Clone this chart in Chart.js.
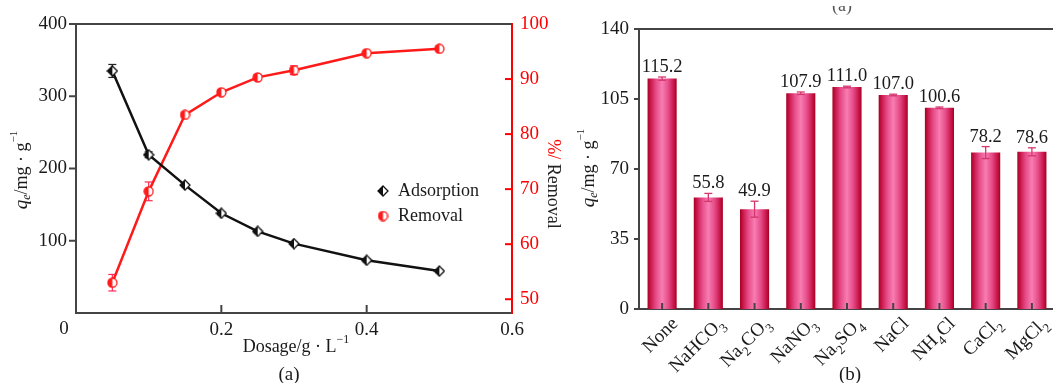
<!DOCTYPE html>
<html>
<head>
<meta charset="utf-8">
<script src="https://cdn.jsdelivr.net/npm/chart.js"></script>
<style>
  html, body { margin: 0; padding: 0; background: #fff; overflow: hidden; width: 1053px; height: 383px; }
  canvas { position: absolute; top: 0; }
  #dose { left: 0; }
  #ions { left: 575px; }
</style>
</head>
<body>
<canvas id="dose" width="575" height="383"></canvas>
<canvas id="ions" width="480" height="383"></canvas>
<script>
// ---- (a) effect of adsorbent dosage ----
const dosage        = [0.05, 0.1, 0.15, 0.2, 0.25, 0.3, 0.4, 0.5];
const adsorption    = [335, 219, 177, 138, 113, 96, 73, 58];
const adsorptionErr = [9, 4, 2, 2, 2, 2, 2, 2];
const removal       = [53.0, 69.6, 83.5, 87.6, 90.3, 91.6, 94.7, 95.5];
const removalErr    = [1.5, 1.7, 0.4, 0.3, 0.5, 0.8, 0.3, 0.3];
const doseTicks     = [0, 0.2, 0.4, 0.6];
const qTicks        = [0, 100, 200, 300, 400];
const removalTicks  = [50, 60, 70, 80, 90, 100];

// ---- (b) effect of coexisting salts ----
const salts   = ['None', 'NaHCO3', 'Na2CO3', 'NaNO3', 'Na2SO4', 'NaCl', 'NH4Cl', 'CaCl2', 'MgCl2'];
const qe      = [115.2, 55.8, 49.9, 107.9, 111.0, 107.0, 100.6, 78.2, 78.6];
const qeErr   = [0.8, 2.0, 4.0, 0.6, 0.4, 0.4, 0.4, 3.0, 2.0];
const qeTicks = [0, 35, 70, 105, 140];

const SERIF = "'Liberation Serif', 'Times New Roman', serif";
const INK = '#1a1a1a';
const AXIS = '#444';
const RED = '#ff0000';

function f(size, style) { return (style ? style + ' ' : '') + size + 'px ' + SERIF; }

function richWidth(ctx, segs) {
  let w = 0;
  for (const s of segs) { ctx.font = s.font; w += ctx.measureText(s.t).width; }
  return w;
}
function drawRich(ctx, segs, x, y, align) {
  const w = richWidth(ctx, segs);
  let cx = align === 'center' ? x - w / 2 : align === 'right' ? x - w : x;
  ctx.textAlign = 'left';
  for (const s of segs) {
    ctx.font = s.font;
    ctx.fillStyle = s.color || INK;
    ctx.fillText(s.t, cx, y + (s.dy || 0));
    cx += ctx.measureText(s.t).width;
  }
}
// chemical formula: digits become subscripts
function formulaSegs(name, size) {
  const segs = [];
  for (const part of name.match(/\d+|\D+/g)) {
    if (/\d/.test(part)) segs.push({ t: part, font: f(Math.round(size * 0.7)), dy: size * 0.3 });
    else segs.push({ t: part, font: f(size) });
  }
  return segs;
}
function qeTitle(size) {
  return [
    { t: 'q', font: f(size + 1, 'italic') },
    { t: 'e', font: f(Math.round(size * 0.68), 'italic'), dy: size * 0.28 },
    { t: '/mg \u00b7 g', font: f(size) },
    { t: '\u22121', font: f(Math.round(size * 0.62)), dy: -size * 0.42 }
  ];
}

// marker images: half-filled diamond and half-filled circle
function halfDiamond(size, color) {
  const c = document.createElement('canvas');
  c.width = c.height = size;
  const g = c.getContext('2d');
  const h = size / 2;
  g.beginPath(); g.moveTo(h, 1); g.lineTo(size - 1, h); g.lineTo(h, size - 1); g.lineTo(1, h); g.closePath();
  g.fillStyle = '#fff'; g.fill();
  g.beginPath(); g.moveTo(h, 1); g.lineTo(h, size - 1); g.lineTo(1, h); g.closePath();
  g.fillStyle = color; g.fill();
  g.beginPath(); g.moveTo(h, 1); g.lineTo(size - 1, h); g.lineTo(h, size - 1); g.lineTo(1, h); g.closePath();
  g.strokeStyle = color; g.lineWidth = 1.3; g.stroke();
  return c;
}
function halfCircle(size, color) {
  const c = document.createElement('canvas');
  c.width = c.height = size;
  const g = c.getContext('2d');
  const h = size / 2, r = h - 1;
  g.beginPath(); g.arc(h, h, r, 0, Math.PI * 2); g.fillStyle = '#fff'; g.fill();
  g.beginPath(); g.arc(h, h, r, Math.PI / 2, Math.PI * 1.5); g.closePath(); g.fillStyle = color; g.fill();
  g.beginPath(); g.arc(h, h, r, 0, Math.PI * 2); g.strokeStyle = color; g.lineWidth = 1.3; g.stroke();
  return c;
}
const diamondImg = halfDiamond(12, '#111');
const circleImg = halfCircle(11, '#ff1a1a');

function line(ctx, x1, y1, x2, y2, color, w) {
  ctx.beginPath(); ctx.moveTo(x1, y1); ctx.lineTo(x2, y2);
  ctx.strokeStyle = color; ctx.lineWidth = w; ctx.stroke();
}

// ---------- chart (a) ----------
const errA = {
  id: 'errA',
  beforeDatasetsDraw(chart) {
    const ctx = chart.ctx, xs = chart.scales.x;
    const sets = [
      { ys: chart.scales.y, v: adsorption, e: adsorptionErr, c: '#222' },
      { ys: chart.scales.y1, v: removal, e: removalErr, c: '#ff2a55' }
    ];
    ctx.save();
    for (const s of sets) {
      s.v.forEach((v, i) => {
        const x = xs.getPixelForValue(dosage[i]);
        const y1 = s.ys.getPixelForValue(v + s.e[i]);
        const y2 = s.ys.getPixelForValue(v - s.e[i]);
        line(ctx, x, y1, x, y2, s.c, 1.2);
        line(ctx, x - 4, y1, x + 4, y1, s.c, 1.2);
        line(ctx, x - 4, y2, x + 4, y2, s.c, 1.2);
      });
    }
    ctx.restore();
  }
};
const decoA = {
  id: 'decoA',
  afterDraw(chart) {
    const ctx = chart.ctx, a = chart.chartArea;
    const xs = chart.scales.x, ys = chart.scales.y, yr = chart.scales.y1;
    ctx.save();
    // top frame
    line(ctx, a.left - 1, a.top, a.right, a.top, AXIS, 2);
    // left ticks (outward)
    qTicks.forEach(v => { if (v > 0) { const y = ys.getPixelForValue(v); line(ctx, a.left - 7, y, a.left, y, AXIS, 2); } });
    // bottom ticks (inward)
    doseTicks.forEach(v => { if (v > 0 && v < 0.6) { const x = xs.getPixelForValue(v); line(ctx, x, a.bottom, x, a.bottom - 8, AXIS, 2); } });
    // right ticks (inward, red)
    removalTicks.forEach(v => { if (v < 100) { const y = yr.getPixelForValue(v); line(ctx, a.right - 7, y, a.right, y, RED, 2); } });
    // origin label
    ctx.font = f(19); ctx.fillStyle = INK; ctx.textAlign = 'center'; ctx.textBaseline = 'middle';
    ctx.fillText('0', a.left - 12, 329);
    // axis titles
    ctx.textBaseline = 'middle';
    ctx.save(); ctx.translate(22, 170); ctx.rotate(-Math.PI / 2);
    drawRich(ctx, qeTitle(18), 0, 0, 'center'); ctx.restore();
    ctx.save(); ctx.translate(553, 184); ctx.rotate(Math.PI / 2);
    drawRich(ctx, [{ t: '%/', font: f(18), color: RED }, { t: ' Removal', font: f(18), color: '#222' }], 0, 0, 'center');
    ctx.restore();
    drawRich(ctx, [{ t: 'Dosage/g \u00b7 L', font: f(18) }, { t: '\u22121', font: f(12), dy: -7 }], 296, 347, 'center');
    drawRich(ctx, [{ t: '(a)', font: f(19) }], 289, 375, 'center');
    // legend
    const names = chart.data.datasets.map(d => d.label);
    const imgs = [diamondImg, circleImg];
    const ly = [191, 216];
    names.forEach((n, i) => {
      const im = imgs[i];
      ctx.drawImage(im, 383 - im.width / 2, ly[i] - im.height / 2);
      ctx.font = f(18); ctx.fillStyle = INK; ctx.textAlign = 'left';
      ctx.fillText(n, 398, ly[i]);
    });
    ctx.restore();
  }
};

new Chart(document.getElementById('dose'), {
  type: 'line',
  data: {
    datasets: [
      {
        label: 'Adsorption',
        data: dosage.map((x, i) => ({ x, y: adsorption[i] })),
        yAxisID: 'y',
        borderColor: '#111', borderWidth: 2.5, tension: 0,
        pointStyle: diamondImg
      },
      {
        label: 'Removal',
        data: dosage.map((x, i) => ({ x, y: removal[i] })),
        yAxisID: 'y1',
        borderColor: '#ff1a1a', borderWidth: 2.5, tension: 0,
        pointStyle: circleImg
      }
    ]
  },
  options: {
    responsive: false, animation: false,
    layout: { padding: { top: 24, left: 0, right: 0, bottom: 0 } },
    plugins: { legend: { display: false }, tooltip: { enabled: false } },
    scales: {
      x: {
        type: 'linear', position: 'bottom', min: 0, max: 0.6,
        grid: { display: false, drawTicks: false },
        border: { display: true, color: AXIS, width: 2 },
        ticks: { font: { family: SERIF, size: 19 }, color: INK, padding: 6,
                 callback: v => (v === 0 ? '' : v.toFixed(1)) },
        afterBuildTicks: s => { s.ticks = doseTicks.map(v => ({ value: v })); },
        afterFit: s => { s.height = 70; }
      },
      y: {
        position: 'left', min: 0, max: 400,
        grid: { display: false, drawTicks: false },
        border: { display: true, color: AXIS, width: 2 },
        ticks: { font: { family: SERIF, size: 19 }, color: INK, padding: 9,
                 callback: v => (v === 0 ? '' : String(v)) },
        afterBuildTicks: s => { s.ticks = qTicks.map(v => ({ value: v })); },
        afterFit: s => { s.width = 76; }
      },
      y1: {
        position: 'right', min: 47.5, max: 100,
        grid: { display: false, drawTicks: false },
        border: { display: true, color: RED, width: 2 },
        ticks: { font: { family: SERIF, size: 19 }, color: RED, padding: 8 },
        afterBuildTicks: s => { s.ticks = removalTicks.map(v => ({ value: v })); },
        afterFit: s => { s.width = 63; }
      }
    }
  },
  plugins: [errA, decoA]
});

// ---------- chart (b) ----------
const BAR_FRAC = 0.63;
function barFill(c) {
  const ch = c.chart, xs = ch.scales && ch.scales.x;
  if (!xs || !ch.chartArea) return '#e04a84';
  const cx = xs.getPixelForValue(c.dataIndex);
  const w = xs.width / salts.length * BAR_FRAC;
  const g = ch.ctx.createLinearGradient(cx - w / 2, 0, cx + w / 2, 0);
  g.addColorStop(0, '#a5001f');
  g.addColorStop(0.1, '#c8154a');
  g.addColorStop(0.28, '#e54a86');
  g.addColorStop(0.5, '#f87db2');
  g.addColorStop(0.72, '#e54a86');
  g.addColorStop(0.9, '#c8154a');
  g.addColorStop(1, '#a5001f');
  return g;
}

const decoB = {
  id: 'decoB',
  afterDatasetsDraw(chart) {
    const ctx = chart.ctx, xs = chart.scales.x, ys = chart.scales.y;
    ctx.save();
    qe.forEach((v, i) => {
      const x = xs.getPixelForValue(i);
      const yt = ys.getPixelForValue(v + qeErr[i]);
      const yb = ys.getPixelForValue(v - qeErr[i]);
      const col = '#d4356c';
      line(ctx, x, yt, x, yb, col, 1.3);
      line(ctx, x - 4, yt, x + 4, yt, col, 1.3);
      line(ctx, x - 4, yb, x + 4, yb, col, 1.3);
      ctx.font = f(18.5); ctx.fillStyle = INK; ctx.textAlign = 'center'; ctx.textBaseline = 'alphabetic';
      ctx.fillText(v.toFixed(1), x, yt - 5);
    });
    ctx.restore();
  },
  afterDraw(chart) {
    const ctx = chart.ctx, a = chart.chartArea, xs = chart.scales.x, ys = chart.scales.y;
    ctx.save();
    line(ctx, a.left - 1, a.top, chart.width, a.top, AXIS, 2);
    qeTicks.forEach(v => { const y = ys.getPixelForValue(v); line(ctx, a.left - 5, y, a.left, y, AXIS, 2); });
    salts.forEach((s, i) => {
      const x = xs.getPixelForValue(i);
      line(ctx, x, a.bottom, x, a.bottom - 6, AXIS, 2);
      ctx.save();
      ctx.translate(x + 13, a.bottom + 12);
      ctx.rotate(-Math.PI / 4);
      ctx.textBaseline = 'alphabetic';
      drawRich(ctx, formulaSegs(s, 19), 0, 5, 'right');
      ctx.restore();
    });
    ctx.textBaseline = 'middle';
    ctx.save(); ctx.translate(14, 168); ctx.rotate(-Math.PI / 2);
    drawRich(ctx, qeTitle(18), 0, 0, 'center'); ctx.restore();
    drawRich(ctx, [{ t: '(b)', font: f(19) }], 275, 375, 'center');
    // panel caption from the figure above, only its lower edge shows
    ctx.save();
    ctx.beginPath(); ctx.rect(0, 6, chart.width, 20); ctx.clip();
    ctx.textBaseline = 'alphabetic';
    drawRich(ctx, [{ t: '(a)', font: f(18), color: '#555' }], 267, 11, 'center');
    ctx.restore();
    ctx.restore();
  }
};

new Chart(document.getElementById('ions'), {
  type: 'bar',
  data: {
    labels: salts,
    datasets: [{
      label: 'qe',
      data: qe,
      backgroundColor: barFill,
      borderWidth: 0,
      barPercentage: BAR_FRAC,
      categoryPercentage: 1
    }]
  },
  options: {
    responsive: false, animation: false,
    layout: { padding: { top: 29, left: 0, right: 0, bottom: 0 } },
    plugins: { legend: { display: false }, tooltip: { enabled: false } },
    scales: {
      x: {
        grid: { display: false, drawTicks: false },
        border: { display: true, color: AXIS, width: 2 },
        ticks: { display: false },
        afterFit: s => { s.height = 74; }
      },
      y: {
        min: 0, max: 140,
        grid: { display: false, drawTicks: false },
        border: { display: true, color: AXIS, width: 2 },
        ticks: { font: { family: SERIF, size: 19 }, color: INK, padding: 10 },
        afterBuildTicks: s => { s.ticks = qeTicks.map(v => ({ value: v })); },
        afterFit: s => { s.width = 64; }
      }
    }
  },
  plugins: [decoB]
});
</script>
</body>
</html>
